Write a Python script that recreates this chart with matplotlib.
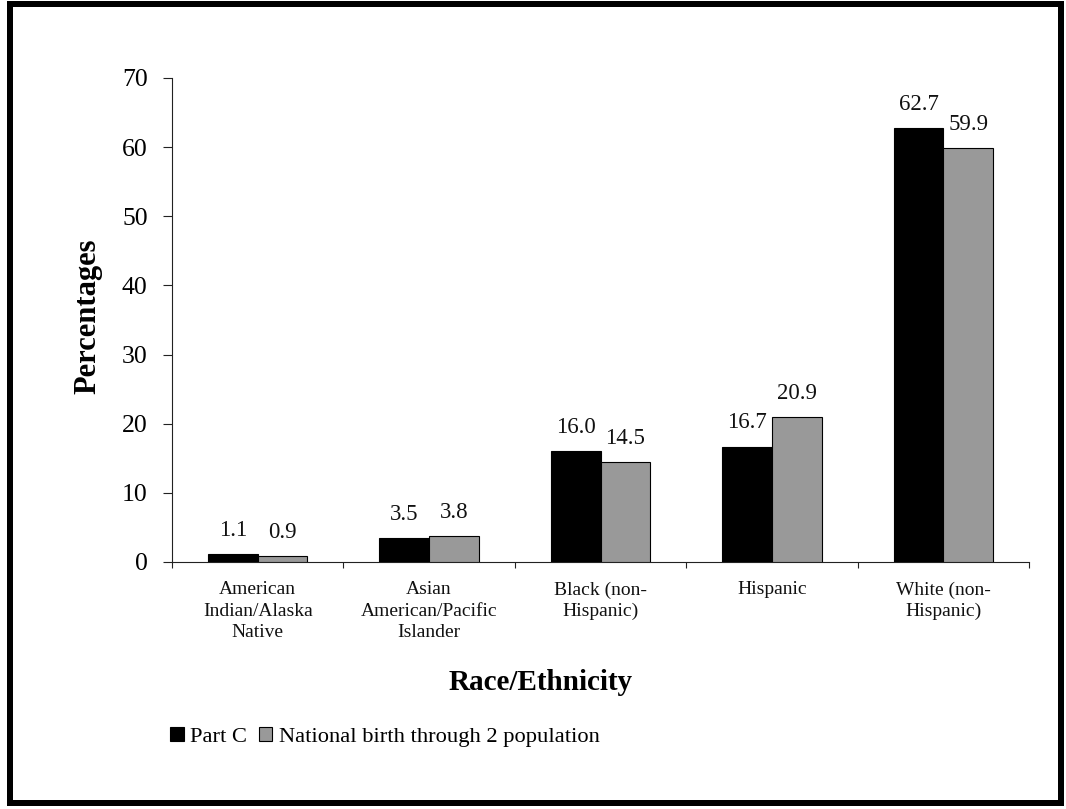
import matplotlib
matplotlib.use("Agg")
import matplotlib.pyplot as plt
from matplotlib.patches import Rectangle, Patch
import numpy as np

# Data
categories = [
    "American\nIndian/Alaska\nNative",
    "Asian\nAmerican/Pacific\nIslander",
    "Black (non-\nHispanic)",
    "Hispanic",
    "White (non-\nHispanic)",
]
part_c = [1.1, 3.5, 16.0, 16.7, 62.7]
national = [0.9, 3.8, 14.5, 20.9, 59.9]
series_names = ["Part C", "National birth through 2 population"]
y_ticks = [0, 10, 20, 30, 40, 50, 60, 70]

plt.rcParams["font.family"] = ["Liberation Serif", "DejaVu Serif"]

W, H = 1066, 809
fig = plt.figure(figsize=(W / 100, H / 100), dpi=100)
fig.patch.set_facecolor("white")

# plot area in pixel coordinates
left_px, right_px = 172, 1029
top_px, bottom_px = 78, 562
ax = fig.add_axes([left_px / W, 1 - bottom_px / H,
                   (right_px - left_px) / W, (bottom_px - top_px) / H])

n = len(categories)
centers = np.arange(n) + 0.5
bw = 0.29
black = "#000000"
grey = "#999999"

ax.bar(centers - bw / 2, part_c, width=bw, color=black, edgecolor=black,
       linewidth=0.8, zorder=3)
ax.bar(centers + bw / 2, national, width=bw, color=grey, edgecolor=black,
       linewidth=0.8, zorder=3)

for xc, v in zip(centers - bw / 2, part_c):
    ax.annotate(f"{v:.1f}", (xc, v), xytext=(0, 13), textcoords="offset points",
                ha="center", va="baseline", fontsize=16.5, color="#111111")
for xc, v in zip(centers + bw / 2, national):
    ax.annotate(f"{v:.1f}", (xc, v), xytext=(0, 13), textcoords="offset points",
                ha="center", va="baseline", fontsize=16.5, color="#111111")

ax.set_xlim(0, n)
ax.set_ylim(0, 70)

# y axis
ax.set_yticks(y_ticks)
ax.set_yticklabels([str(t) for t in y_ticks])
ax.tick_params(axis="y", direction="out", length=6.5, width=0.8,
               labelsize=18.5, pad=11, color="#222222")

# x axis: boundary ticks, category labels at centres
ax.set_xticks(np.arange(n + 1))
ax.set_xticklabels([])
ax.tick_params(axis="x", which="major", direction="out", length=4,
               width=0.8, color="#222222")
ax.set_xticks(centers, minor=True)
ax.set_xticklabels(categories, minor=True, fontsize=14, linespacing=1.32,
                   color="#111111")
ax.tick_params(axis="x", which="minor", length=0, pad=14)

for s in ["top", "right"]:
    ax.spines[s].set_visible(False)
for s in ["left", "bottom"]:
    ax.spines[s].set_linewidth(0.8)
    ax.spines[s].set_color("#222222")

# axis titles
fig.text(88 / W, 1 - 316 / H, "Percentages", rotation=90, ha="center",
         va="center", fontsize=22, fontweight="bold")
fig.text(541 / W, 1 - 682 / H, "Race/Ethnicity", ha="center", va="center",
         fontsize=21, fontweight="bold")

# legend
handles = [Patch(facecolor=black, edgecolor=black, linewidth=0.8),
           Patch(facecolor=grey, edgecolor=black, linewidth=0.8)]
fig.legend(handles, series_names, loc="center left",
           bbox_to_anchor=(170 / W, 1 - 737 / H), ncol=2, frameon=False,
           fontsize=16.2, handlelength=0.6, handleheight=0.6,
           handletextpad=0.3, columnspacing=0.5, borderaxespad=0,
           borderpad=0)

# outer frame
lw_px = 6
frame = Rectangle((9.5 / W, 6 / H), (1061 - 9.5) / W, (805 - 6) / H,
                  transform=fig.transFigure, fill=False, edgecolor="black",
                  linewidth=lw_px * 72 / 100)
frame.set_transform(fig.transFigure)
fig.patches.append(frame)

fig.savefig("out.png", dpi=100)
